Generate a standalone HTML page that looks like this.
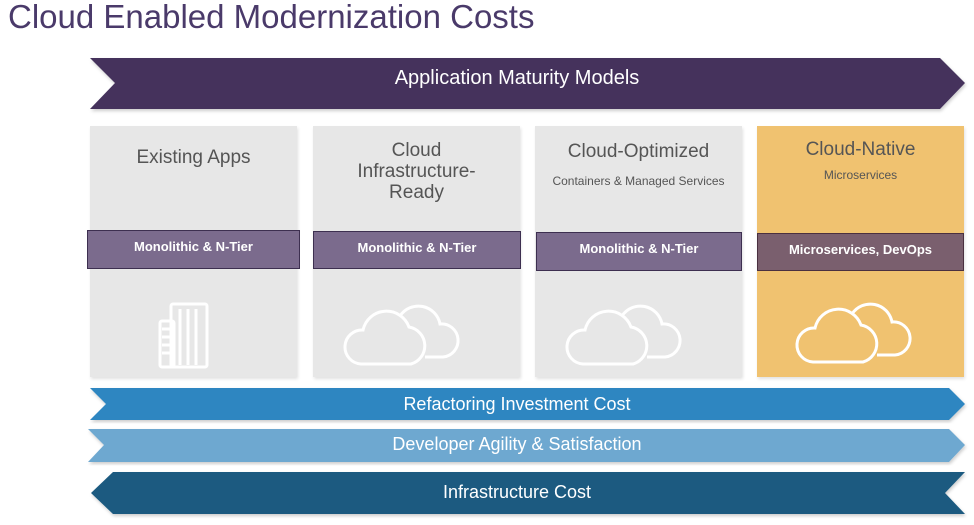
<!DOCTYPE html>
<html><head><style>
body{margin:0;width:974px;height:525px;background:#fff;font-family:"Liberation Sans",sans-serif;position:relative;overflow:hidden}
.a{position:absolute}
.box{position:absolute;top:126px;width:207px;height:251px;background:#e7e7e7;box-shadow:1px 2px 3px rgba(0,0,0,.12)}
.t{position:absolute;width:100%;text-align:center;color:#555;font-size:19px;line-height:21px}
.s{position:absolute;width:100%;text-align:center;color:#555;font-size:12px}
.bar{position:absolute;height:38px;background:#7b6b8d;border:1px solid #3d2f50;color:#fff;font-weight:bold;font-size:13px;text-align:center;line-height:32px;box-sizing:border-box}
.lbl{position:absolute;color:#fff;font-size:18px;text-align:center;width:854px;left:90px}
</style></head><body>
<div class="a" style="left:8px;top:-2px;font-size:33px;color:#4a3a6a">Cloud Enabled Modernization Costs</div>
<svg class="a" style="left:0;top:0" width="974" height="525">
<defs><filter id="f"><feDropShadow dx="1" dy="2" stdDeviation="1.5" flood-opacity=".2"/></filter></defs>
<polygon filter="url(#f)" points="90,58 940,58 965,83 940,109 90,109 115,83" fill="#44305c"/>
<polygon filter="url(#f)" points="90,388 949,388 965,404 949,420 90,420 106,404" fill="#2e86c1"/>
<polygon filter="url(#f)" points="88,429 949,429 965,445 949,462 88,462 104,445" fill="#6ea8d0"/>
<polygon filter="url(#f)" points="113,472 965,472 945,493 965,514 113,514 91,493" fill="#1a5a80"/>
</svg>
<div class="lbl" style="top:67px;font-size:20px">Application Maturity Models</div>
<div class="lbl" style="top:394px">Refactoring Investment Cost</div>
<div class="lbl" style="top:434px">Developer Agility &amp; Satisfaction</div>
<div class="lbl" style="top:482px">Infrastructure Cost</div>

<div class="box" style="left:90px"><div class="t" style="top:21px">Existing Apps</div>
<svg class="a" style="left:68px;top:175px" width="60" height="70" fill="none" stroke="#fff" stroke-width="3"><rect x="13" y="3" width="36" height="63" rx="2"/><rect x="2" y="20" width="14" height="46" rx="2"/><path d="M22 8v56M30 8v56M38 8v56M4 28h10M4 36h10M4 44h10M4 52h10"/></svg></div>
<div class="box" style="left:313px"><div class="t" style="top:14px">Cloud<br>Infrastructure-<br>Ready</div>
<svg class="a" style="left:28px;top:168px" width="130" height="80" fill="none" stroke="#fff" stroke-width="3"><path d="M59 22a22 22 0 0 1 40 8a16 16 0 0 1 3 33h-18"/><path d="M20 70a17 17 0 0 1 2-34a24 24 0 0 1 46-3a19 19 0 0 1 2 37z"/></svg></div>
<div class="box" style="left:535px"><div class="t" style="top:15px">Cloud-Optimized</div><div class="s" style="top:48px">Containers &amp; Managed Services</div>
<svg class="a" style="left:28px;top:168px" width="130" height="80" fill="none" stroke="#fff" stroke-width="3"><path d="M59 22a22 22 0 0 1 40 8a16 16 0 0 1 3 33h-18"/><path d="M20 70a17 17 0 0 1 2-34a24 24 0 0 1 46-3a19 19 0 0 1 2 37z"/></svg></div>
<div class="box" style="left:757px;background:#f0c270"><div class="t" style="top:13px">Cloud-Native</div><div class="s" style="top:42px">Microservices</div>
<svg class="a" style="left:36px;top:166px" width="130" height="80" fill="none" stroke="#fff" stroke-width="3"><path d="M59 22a22 22 0 0 1 40 8a16 16 0 0 1 3 33h-18"/><path d="M20 70a17 17 0 0 1 2-34a24 24 0 0 1 46-3a19 19 0 0 1 2 37z"/></svg></div>

<div class="bar" style="left:87px;top:230px;width:213px;height:39px">Monolithic &amp; N-Tier</div>
<div class="bar" style="left:313px;top:231px;width:208px">Monolithic &amp; N-Tier</div>
<div class="bar" style="left:536px;top:232px;width:206px;height:39px">Monolithic &amp; N-Tier</div>
<div class="bar" style="left:757px;top:233px;width:207px;background:#7a5f6e;border-color:#4a3040">Microservices, DevOps</div>
</body></html>
